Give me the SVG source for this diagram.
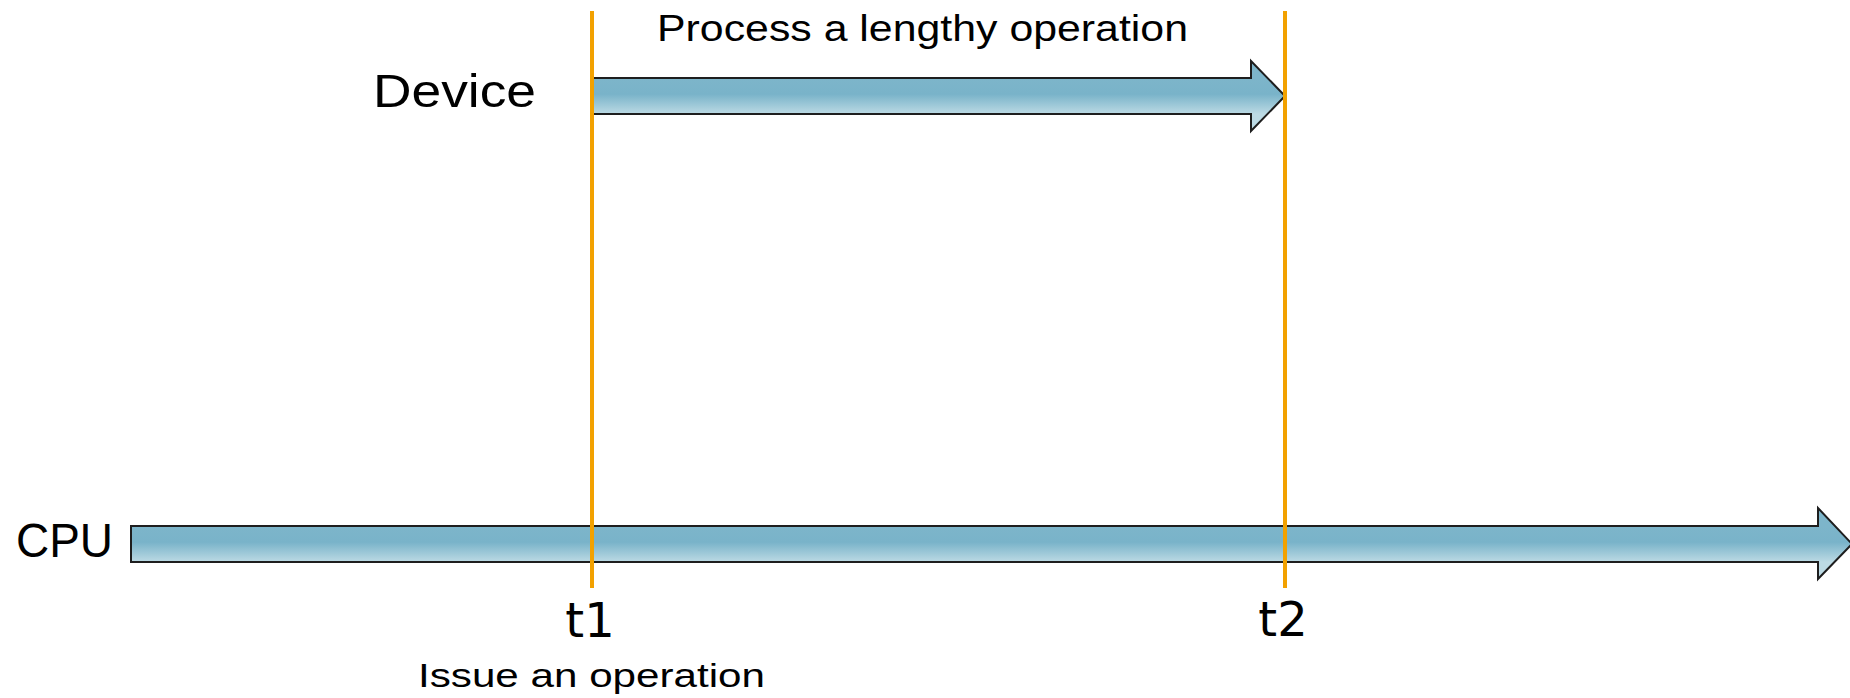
<svg xmlns="http://www.w3.org/2000/svg" width="1850" height="698" viewBox="0 0 1850 698">
<style>
.lbl{font-family:"Liberation Sans","DejaVu Sans",sans-serif;fill:#000}
.tm{font-family:"DejaVu Sans",sans-serif;fill:#000;font-size:48px;text-anchor:middle}
.arrow{stroke:#1e1e1e;stroke-width:2;stroke-linejoin:miter}
.mark{stroke:#f2a100;stroke-width:4;fill:none}
</style>
<defs>
<linearGradient id="gDev" gradientUnits="userSpaceOnUse" x1="0" y1="78" x2="0" y2="114">
<stop offset="0" stop-color="#7db5ca"/>
<stop offset="0.45" stop-color="#79b3c9"/>
<stop offset="1" stop-color="#bcdae4"/>
</linearGradient>
<linearGradient id="gCpu" gradientUnits="userSpaceOnUse" x1="0" y1="526" x2="0" y2="562">
<stop offset="0" stop-color="#7db5ca"/>
<stop offset="0.45" stop-color="#79b3c9"/>
<stop offset="1" stop-color="#bcdae4"/>
</linearGradient>
</defs>
<g id="device">
<polygon class="arrow" fill="url(#gDev)" points="591,78 1251,78 1251,61 1285,96 1251,131 1251,114 591,114"/>
<text class="lbl" x="373" y="107" font-size="47" textLength="163" lengthAdjust="spacingAndGlyphs">Device</text>
<text class="lbl" x="657" y="41" font-size="36" textLength="531" lengthAdjust="spacingAndGlyphs">Process a lengthy operation</text>
</g>
<g id="cpu">
<polygon class="arrow" fill="url(#gCpu)" points="131,526 1818,526 1818,508 1852,544 1818,579 1818,562 131,562"/>
<text class="lbl" x="16" y="557" font-size="48" textLength="97" lengthAdjust="spacingAndGlyphs">CPU</text>
</g>
<g id="connectors">
<line class="mark" x1="592" y1="11" x2="592" y2="588"/>
<line class="mark" x1="1285" y1="11" x2="1285" y2="588"/>
</g>
<g id="t1">
<text class="tm" x="590" y="637">t1</text>
<text class="lbl" x="418" y="687" font-size="34" textLength="347" lengthAdjust="spacingAndGlyphs">Issue an operation</text>
</g>
<g id="t2">
<text class="tm" x="1283" y="636">t2</text>
</g>
</svg>
